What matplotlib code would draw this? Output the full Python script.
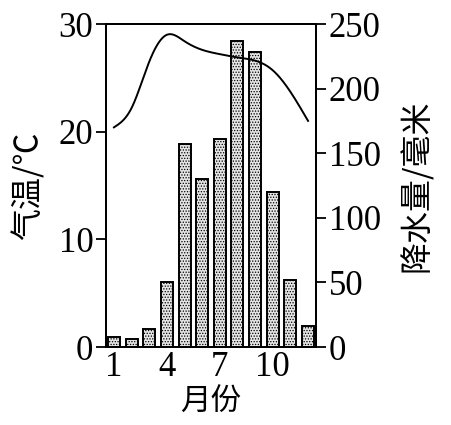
import numpy as np
import matplotlib
matplotlib.use("Agg")
import matplotlib.pyplot as plt

months = [1, 2, 3, 4, 5, 6, 7, 8, 9, 10, 11, 12]
precip = [8, 6, 14, 50, 157, 130, 161, 237, 228, 120, 52, 16]
temp = [20.4, 22.2, 26.5, 29.0, 28.4, 27.6, 27.2, 26.9, 26.6, 25.7, 23.7, 21.0]
xticks = [1, 4, 7, 10]
t_ticks = [0, 10, 20, 30]
p_ticks = [0, 50, 100, 150, 200, 250]

plt.rcParams['hatch.color'] = '#777777'
plt.rcParams['hatch.linewidth'] = 0.6

def natural_spline(x, y, n=400):
    x = np.asarray(x, float); y = np.asarray(y, float)
    k = len(x); h = np.diff(x)
    A = np.zeros((k, k)); b = np.zeros(k)
    A[0, 0] = A[-1, -1] = 1
    for i in range(1, k - 1):
        A[i, i - 1] = h[i - 1]; A[i, i] = 2 * (h[i - 1] + h[i]); A[i, i + 1] = h[i]
        b[i] = 3 * ((y[i + 1] - y[i]) / h[i] - (y[i] - y[i - 1]) / h[i - 1])
    c = np.linalg.solve(A, b)
    bb = (np.diff(y) / h) - h * (2 * c[:-1] + c[1:]) / 3
    d = np.diff(c) / (3 * h)
    xs = np.linspace(x[0], x[-1], n)
    idx = np.clip(np.searchsorted(x, xs) - 1, 0, k - 2)
    dx = xs - x[idx]
    ys = y[idx] + bb[idx] * dx + c[idx] * dx ** 2 + d[idx] * dx ** 3
    return xs, ys

serif = 'Liberation Serif'
cjk = ['Noto Sans CJK SC', 'DejaVu Sans']

fig = plt.figure(figsize=(4.51, 4.25), dpi=100)
ax = fig.add_axes([0.235, 0.1835, 0.4657, 0.76])
ax2 = ax.twinx()

ax2.bar(months, precip, width=0.68, facecolor='#e4e4e4', edgecolor='black',
        linewidth=1.4, hatch='......', zorder=2)
xs, ys = natural_spline(months, temp)
ax.plot(xs, ys, color='black', linewidth=1.4, zorder=5)
ax.set_zorder(ax2.get_zorder() + 1)
ax.patch.set_visible(False)

ax.set_xlim(0.55, 12.45)
ax.set_ylim(0, 30)
ax2.set_ylim(0, 250)
ax.set_xticks(xticks)
ax.set_yticks(t_ticks)
ax2.set_yticks(p_ticks)

for a in (ax, ax2):
    for s in a.spines.values():
        s.set_linewidth(1.4)
ax.tick_params(axis='y', direction='out', length=7, width=1.3, pad=2, labelsize=25)
ax2.tick_params(axis='y', direction='out', length=7, width=1.3, pad=2, labelsize=25)
ax.tick_params(axis='x', length=0, pad=3, labelsize=25)
for lab in ax.get_xticklabels() + ax.get_yticklabels() + ax2.get_yticklabels():
    lab.set_fontfamily(serif)

ax.set_ylabel('气温/℃', family=cjk, fontsize=23, labelpad=10)
ax2.set_ylabel('降水量/毫米', family=cjk, fontsize=23, labelpad=14)
ax.set_xlabel('月份', family=cjk, fontsize=22, labelpad=2)

fig.savefig('out.png', dpi=100)
